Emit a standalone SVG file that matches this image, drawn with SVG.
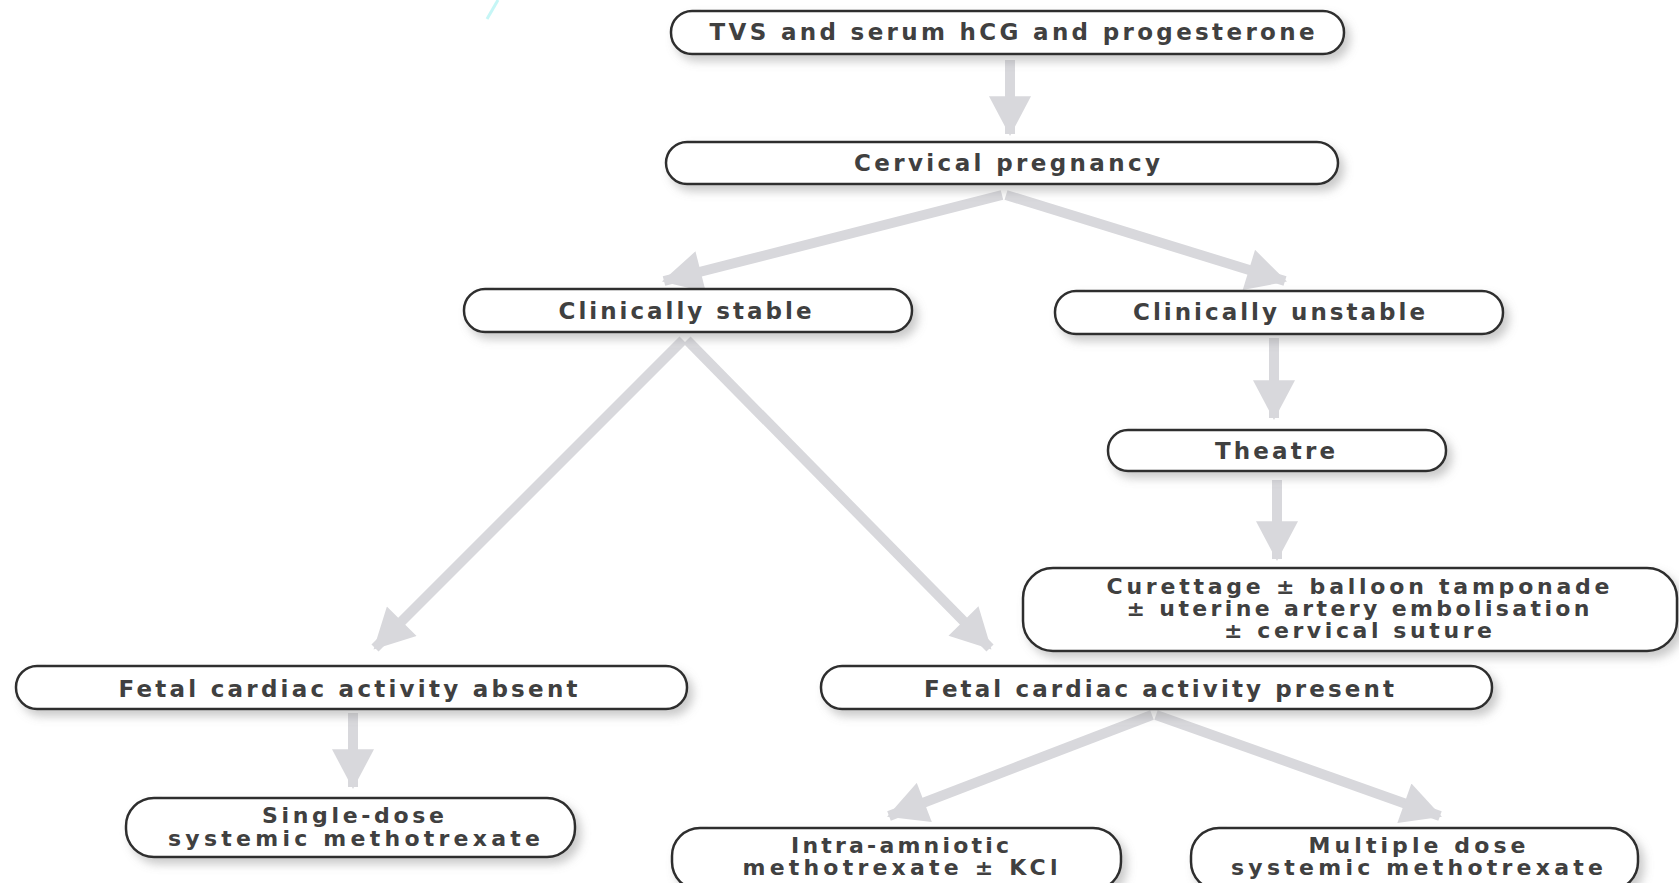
<svg xmlns="http://www.w3.org/2000/svg" width="1679" height="883" viewBox="0 0 1679 883">
<defs>
<filter id="sh" x="-10%" y="-40%" width="125%" height="190%">
<feDropShadow dx="5" dy="6" stdDeviation="5" flood-color="#8a8a8a" flood-opacity="0.45"/>
</filter>
<marker id="ah" markerUnits="userSpaceOnUse" markerWidth="42" markerHeight="42" viewBox="0 0 38 40" refX="36" refY="20" orient="auto">
<path d="M0,0 L38,20 L0,40 z" fill="#d8d8dc"/>
</marker>
</defs>
<style>
.box{fill:#ffffff;stroke:#2e2e2e;stroke-width:2.5;filter:url(#sh)}
.t{font-family:"DejaVu Sans","Liberation Sans",sans-serif;font-weight:bold;font-size:23px;fill:#404040;text-anchor:middle}
.m{font-size:22px}
.ar{stroke:#d8d8dc;stroke-width:10;fill:none;marker-end:url(#ah)}
</style>
<rect width="1679" height="883" fill="#ffffff"/>
<line x1="498" y1="0" x2="487" y2="19" stroke="#c6f6f6" stroke-width="3"/>
<g id="connectors">
<line class="ar" x1="1010" y1="60" x2="1010" y2="134"/>
<line class="ar" x1="1002" y1="195" x2="664" y2="281"/>
<line class="ar" x1="1006" y1="195" x2="1285" y2="281"/>
<line class="ar" x1="1274" y1="338" x2="1274" y2="418"/>
<line class="ar" x1="1277" y1="480" x2="1277" y2="559"/>
<line class="ar" x1="683" y1="340" x2="375" y2="648"/>
<line class="ar" x1="687" y1="340" x2="990" y2="648"/>
<line class="ar" x1="353" y1="713" x2="353" y2="787"/>
<line class="ar" x1="1152" y1="715" x2="889" y2="816"/>
<line class="ar" x1="1156" y1="715" x2="1440" y2="816"/>
</g>
<g id="n1"><rect class="box" x="671" y="11" width="673" height="43" rx="21"/><text class="t" x="1012" y="40" textLength="605" lengthAdjust="spacing">TVS and serum hCG and progesterone</text></g>
<g id="n2"><rect class="box" x="666" y="142" width="672" height="42" rx="21"/><text class="t" x="1007" y="171" textLength="306" lengthAdjust="spacing">Cervical pregnancy</text></g>
<g id="n3"><rect class="box" x="464" y="289" width="448" height="43" rx="21"/><text class="t" x="685" y="319" textLength="253" lengthAdjust="spacing">Clinically stable</text></g>
<g id="n4"><rect class="box" x="1055" y="291" width="448" height="43" rx="21"/><text class="t" x="1279" y="320" textLength="292" lengthAdjust="spacing">Clinically unstable</text></g>
<g id="n5"><rect class="box" x="1108" y="430" width="338" height="41" rx="20"/><text class="t" x="1275" y="459" textLength="120" lengthAdjust="spacing">Theatre</text></g>
<g id="n6"><rect class="box" x="1023" y="568" width="654" height="83" rx="30"/>
<text class="t m" x="1358" y="594" textLength="503" lengthAdjust="spacing">Curettage ± balloon tamponade</text>
<text class="t m" x="1358" y="616" textLength="463" lengthAdjust="spacing">± uterine artery embolisation</text>
<text class="t m" x="1358" y="638" textLength="268" lengthAdjust="spacing">± cervical suture</text></g>
<g id="n7"><rect class="box" x="16" y="666" width="671" height="43" rx="21"/><text class="t" x="348" y="697" textLength="459" lengthAdjust="spacing">Fetal cardiac activity absent</text></g>
<g id="n8"><rect class="box" x="821" y="666" width="671" height="43" rx="21"/><text class="t" x="1159" y="697" textLength="470" lengthAdjust="spacing">Fetal cardiac activity present</text></g>
<g id="n9"><rect class="box" x="126" y="798" width="449" height="59" rx="28"/>
<text class="t m" x="353" y="823" textLength="182" lengthAdjust="spacing">Single-dose</text>
<text class="t m" x="354" y="846" textLength="372" lengthAdjust="spacing">systemic methotrexate</text></g>
<g id="n10"><rect class="box" x="672" y="828" width="449" height="62" rx="28"/>
<text class="t m" x="900" y="853" textLength="218" lengthAdjust="spacing">Intra-amniotic</text>
<text class="t m" x="900" y="875" textLength="315" lengthAdjust="spacing">methotrexate ± KCl</text></g>
<g id="n11"><rect class="box" x="1191" y="828" width="447" height="62" rx="28"/>
<text class="t m" x="1417" y="853" textLength="217" lengthAdjust="spacing">Multiple dose</text>
<text class="t m" x="1417" y="875" textLength="372" lengthAdjust="spacing">systemic methotrexate</text></g>
</svg>
